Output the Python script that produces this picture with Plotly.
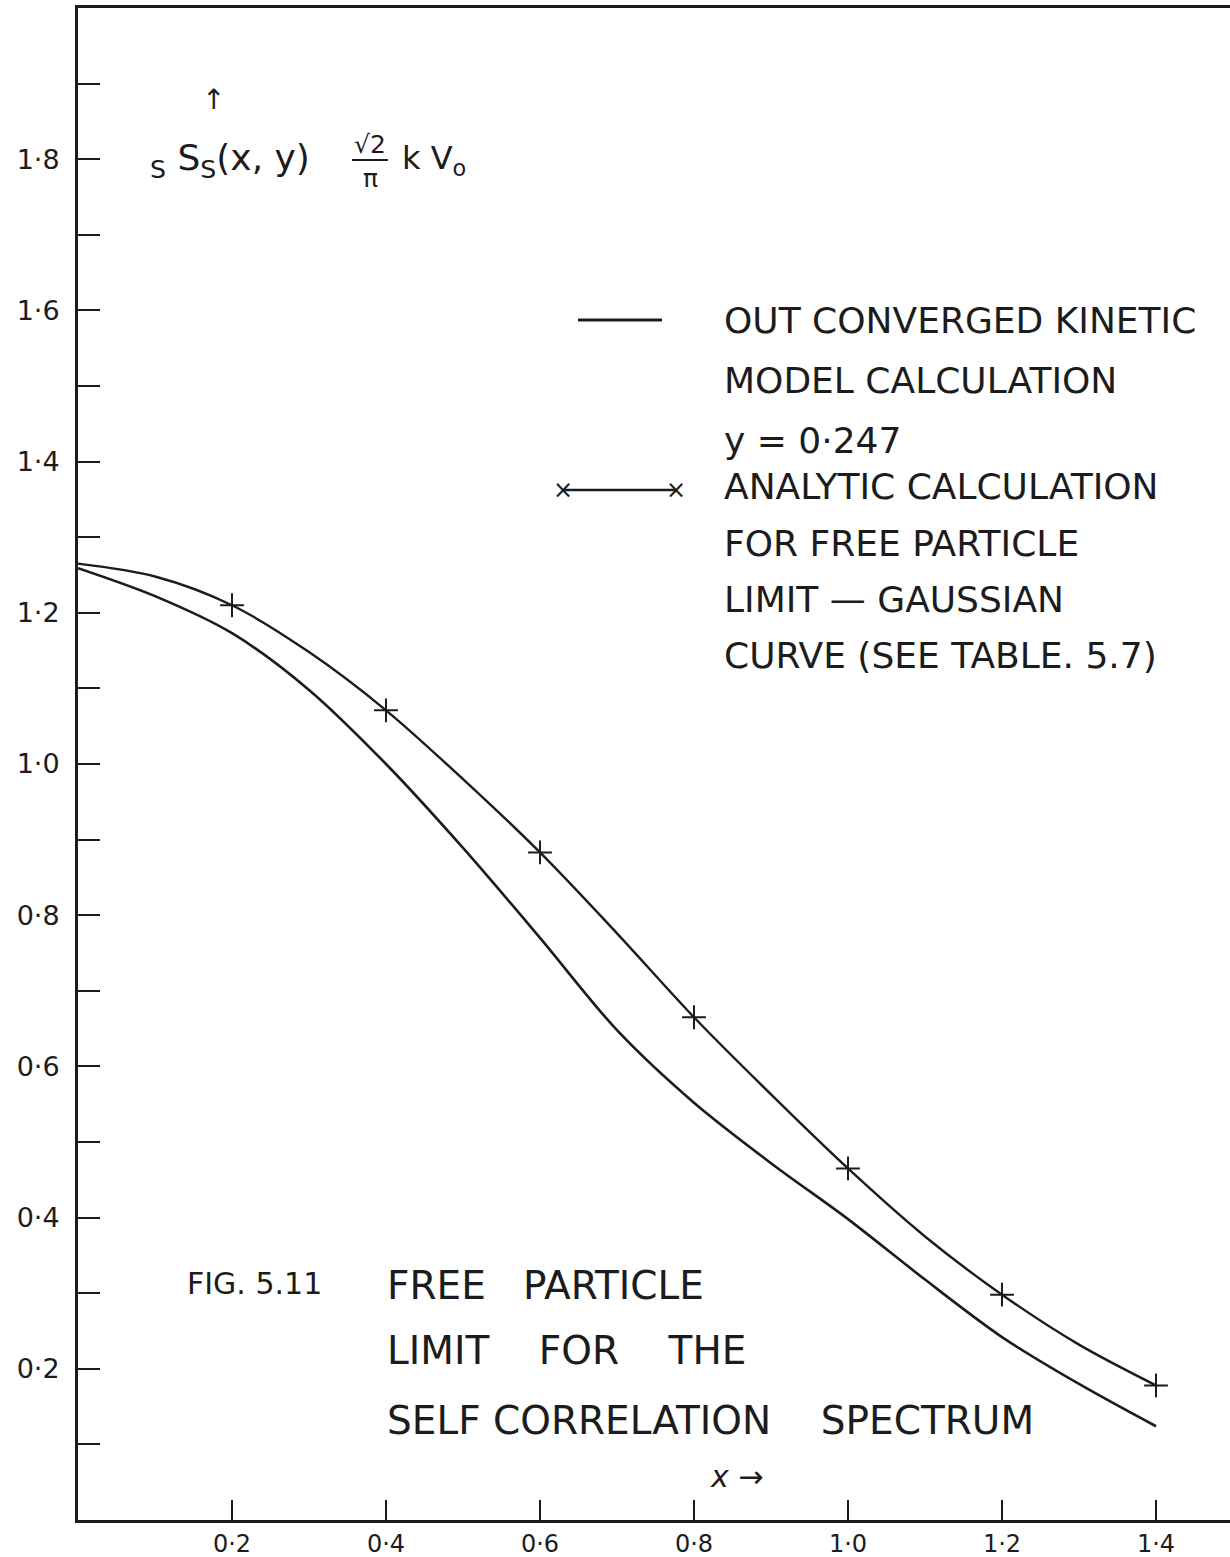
import plotly.graph_objects as go

# ---------------- data ----------------
kinetic_x = [0.0, 0.1, 0.2, 0.3, 0.4, 0.5, 0.6, 0.7, 0.8, 0.9, 1.0, 1.1, 1.2, 1.3, 1.4]
kinetic_y = [1.259, 1.222, 1.173, 1.098, 1.000, 0.889, 0.770, 0.648, 0.552, 0.472, 0.398, 0.318, 0.242, 0.180, 0.124]

analytic_x = [0.0, 0.1, 0.2, 0.3, 0.4, 0.5, 0.6, 0.7, 0.8, 0.9, 1.0, 1.1, 1.2, 1.3, 1.4]
analytic_y = [1.265, 1.248, 1.210, 1.148, 1.071, 0.980, 0.883, 0.776, 0.665, 0.563, 0.465, 0.375, 0.298, 0.232, 0.178]

marker_x = [0.2, 0.4, 0.6, 0.8, 1.0, 1.2, 1.4]
marker_y = [1.210, 1.071, 0.883, 0.665, 0.465, 0.298, 0.178]

x_tickvals = [0.2, 0.4, 0.6, 0.8, 1.0, 1.2, 1.4]
x_ticktext = ["0·2", "0·4", "0·6", "0·8", "1·0", "1·2", "1·4"]
y_tickvals = [0.2, 0.4, 0.6, 0.8, 1.0, 1.2, 1.4, 1.6, 1.8]
y_ticktext = ["0·2", "0·4", "0·6", "0·8", "1·0", "1·2", "1·4", "1·6", "1·8"]
y_minor_tickvals = [0.1, 0.3, 0.5, 0.7, 0.9, 1.1, 1.3, 1.5, 1.7, 1.9]

legend_kinetic = ["OUT CONVERGED KINETIC", "MODEL CALCULATION", "y = 0·247"]
legend_analytic = ["ANALYTIC CALCULATION", "FOR FREE PARTICLE", "LIMIT — GAUSSIAN", "CURVE (SEE TABLE. 5.7)"]
caption_fig = "FIG. 5.11"
caption_lines = ["FREE&nbsp;&nbsp; PARTICLE", "LIMIT&nbsp;&nbsp;&nbsp; FOR&nbsp;&nbsp;&nbsp; THE",
                 "SELF CORRELATION&nbsp;&nbsp;&nbsp; SPECTRUM"]

# ---------------- layout geometry ----------------
W, H = 1230, 1557
ML, MR, MT, MB = 78, 0, 8, 37
PW, PH = W - ML - MR, H - MT - MB
INK = "#1c1c1c"
FONT = "DejaVu Sans"


def px(x):
    return (x - ML) / PW


def py(y):
    return (H - MB - y) / PH


fig = go.Figure()
fig.add_trace(go.Scatter(x=kinetic_x, y=kinetic_y, mode="lines",
                         line=dict(color=INK, width=2.6, shape="spline", smoothing=0.9),
                         showlegend=False))
fig.add_trace(go.Scatter(x=analytic_x, y=analytic_y, mode="lines",
                         line=dict(color=INK, width=2.4, shape="spline", smoothing=0.9),
                         showlegend=False))
fig.add_trace(go.Scatter(x=marker_x, y=marker_y, mode="markers",
                         marker=dict(symbol="cross-thin", size=17, line=dict(color=INK, width=2)),
                         showlegend=False))

ann = []


def text(t, x, y, size, anchor="left", family=FONT):
    ann.append(dict(text=t, x=px(x), y=py(y), xref="paper", yref="paper",
                    xanchor=anchor, yanchor="middle", showarrow=False,
                    font=dict(family=family, size=size, color=INK)))


# y-axis label
text("↑", 213, 100, 28, "center")
text("<sub>S</sub> S<sub>S</sub>(x, y)", 148, 160, 36)
text("√2", 370, 145, 25, "center")
text("π", 370, 178, 25, "center")
text("k V<sub>o</sub>", 400, 160, 32)

# legend texts
for i, t in enumerate(legend_kinetic):
    text(t, 722, 320 + i * 60, 36)
for i, t in enumerate(legend_analytic):
    text(t, 722, 487 + i * 56, 36)
text("×", 563, 490, 24, "center")
text("×", 676, 490, 24, "center")

# caption
text(caption_fig, 185, 1283, 30)
for t, yy in zip(caption_lines, [1285, 1350, 1420]):
    text(t, 385, yy, 39)
text("<i>x</i> →", 736, 1476, 30, "center")

shapes = [
    dict(type="line", xref="paper", yref="paper", x0=px(352), x1=px(388), y0=py(160), y1=py(160),
         line=dict(color=INK, width=2)),
    dict(type="line", xref="paper", yref="paper", x0=px(578), x1=px(662), y0=py(320), y1=py(320),
         line=dict(color=INK, width=3)),
    dict(type="line", xref="paper", yref="paper", x0=px(563), x1=px(676), y0=py(490), y1=py(490),
         line=dict(color=INK, width=2.5)),
]

fig.update_layout(
    width=W, height=H,
    margin=dict(l=ML, r=MR, t=MT, b=MB, autoexpand=False),
    paper_bgcolor="white", plot_bgcolor="white",
    font=dict(family=FONT, color=INK),
    annotations=ann, shapes=shapes,
    showlegend=False,
)
fig.update_xaxes(range=[0, PW / 770.0], showgrid=False, zeroline=False,
                 showline=True, linecolor=INK, linewidth=3, mirror=True,
                 ticks="inside", ticklen=20, tickwidth=2, tickcolor=INK,
                 tickvals=x_tickvals, ticktext=x_ticktext,
                 tickfont=dict(size=24, family=FONT, color=INK))
fig.update_yaxes(range=[0, 2.0], showgrid=False, zeroline=False,
                 showline=True, linecolor=INK, linewidth=3, mirror=False,
                 ticks="inside", ticklen=22, tickwidth=2, tickcolor=INK,
                 tickvals=y_tickvals, ticktext=y_ticktext,
                 ticklabelstandoff=10,
                 minor=dict(tickvals=y_minor_tickvals, ticks="inside", ticklen=22,
                            tickwidth=2, tickcolor=INK, showgrid=False),
                 tickfont=dict(size=27, family=FONT, color=INK))

fig.write_html("out.html")
